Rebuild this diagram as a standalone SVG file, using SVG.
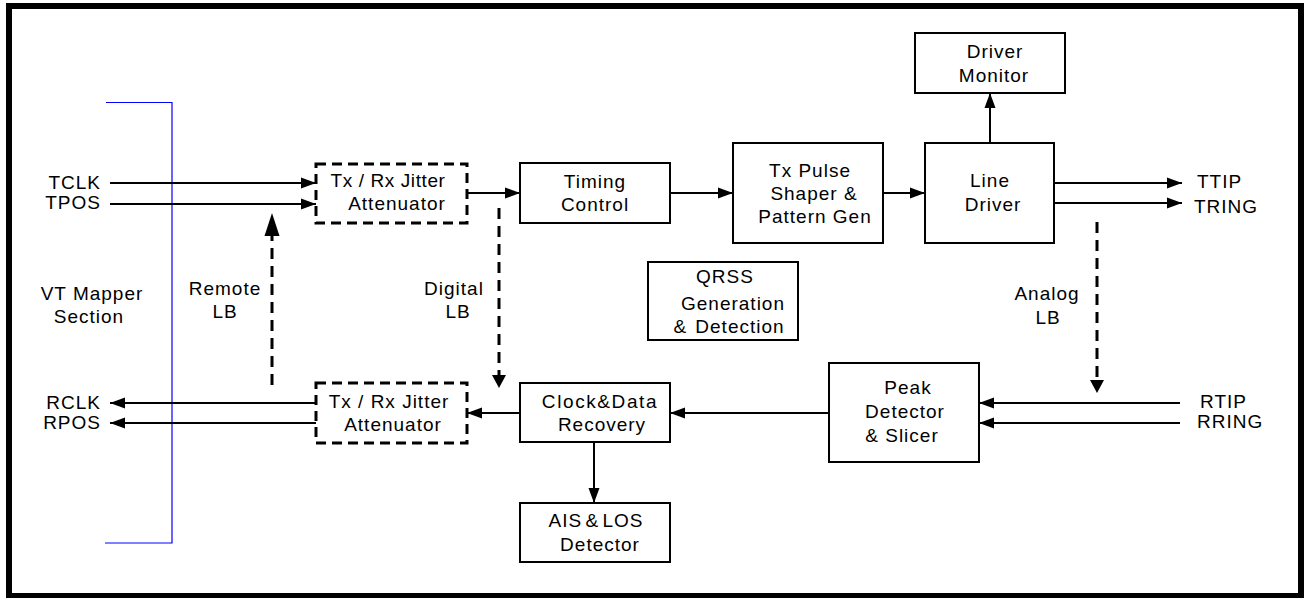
<svg xmlns="http://www.w3.org/2000/svg" width="1304" height="598" viewBox="0 0 1304 598">
<style>
text{font-family:"Liberation Sans",Arial,sans-serif;font-size:19px;letter-spacing:1px;fill:#000}
.m{text-anchor:middle}
.e{text-anchor:end}
.box{fill:#fff;stroke:#000;stroke-width:2}
.dbox{fill:#fff;stroke:#000;stroke-width:3;stroke-dasharray:10 6}
.c{fill:none;stroke:#000;stroke-width:2}
.d{fill:none;stroke:#000;stroke-width:3;stroke-dasharray:11 7}
</style>
<defs>
<marker id="ah" markerUnits="userSpaceOnUse" markerWidth="16" markerHeight="12" refX="15" refY="6" orient="auto">
<path d="M0,0.5 L15,6 L0,11.5 z" fill="#000"/>
</marker>
</defs>
<rect x="9" y="6" width="1292" height="590" fill="#fff" stroke="#000" stroke-width="6"/>
<path d="M106,102.5 H172 V543 H105" fill="none" stroke="#0000ff" stroke-width="1.2"/>
<g id="labels">
<text class="e" x="101" y="189">TCLK</text>
<text class="e" x="101" y="209">TPOS</text>
<text class="e" x="101" y="409">RCLK</text>
<text class="e" x="101" y="429">RPOS</text>
<text class="m" x="92" y="300">VT Mapper</text>
<text class="m" x="89" y="323">Section</text>
<text class="m" x="225" y="295">Remote</text>
<text class="m" x="225" y="318">LB</text>
<text class="m" x="454" y="295">Digital</text>
<text class="m" x="458" y="318">LB</text>
<text class="m" x="1047" y="300">Analog</text>
<text class="m" x="1048" y="324">LB</text>
<text x="1197" y="188">TTIP</text>
<text x="1194" y="213">TRING</text>
<text x="1200" y="408">RTIP</text>
<text x="1197" y="428">RRING</text>
</g>
<g id="jitter-tx">
<rect class="dbox" x="316" y="164" width="151" height="59"/>
<text class="m" x="388" y="187" style="letter-spacing:0.6px">Tx / Rx Jitter</text>
<text class="m" x="397" y="210">Attenuator</text>
</g>
<g id="timing-control">
<rect class="box" x="520" y="163" width="150" height="60"/>
<text class="m" x="595" y="188">Timing</text>
<text class="m" x="595" y="211">Control</text>
</g>
<g id="tx-pulse">
<rect class="box" x="733" y="143" width="150" height="100"/>
<text class="m" x="810" y="177">Tx Pulse</text>
<text class="m" x="814" y="200">Shaper &amp;</text>
<text class="m" x="815" y="223">Pattern Gen</text>
</g>
<g id="line-driver">
<rect class="box" x="925" y="143" width="129" height="100"/>
<text class="m" x="990" y="187">Line</text>
<text class="m" x="993" y="211">Driver</text>
</g>
<g id="driver-monitor">
<rect class="box" x="915" y="33" width="150" height="60"/>
<text class="m" x="995" y="58">Driver</text>
<text class="m" x="994" y="82">Monitor</text>
</g>
<g id="qrss">
<rect class="box" x="648" y="262" width="150" height="78"/>
<text class="m" x="725" y="283">QRSS</text>
<text class="m" x="733" y="310">Generation</text>
<text class="m" x="729" y="333" style="word-spacing:2px">&amp; Detection</text>
</g>
<g id="peak-detector">
<rect class="box" x="829" y="363" width="150" height="99"/>
<text class="m" x="908" y="394">Peak</text>
<text class="m" x="905" y="418">Detector</text>
<text class="m" x="902" y="442">&amp; Slicer</text>
</g>
<g id="clock-data">
<rect class="box" x="520" y="383" width="150" height="59"/>
<text class="m" x="600" y="408" style="letter-spacing:1.6px">Clock&amp;Data</text>
<text class="m" x="602" y="431">Recovery</text>
</g>
<g id="jitter-rx">
<rect class="dbox" x="316" y="383" width="151" height="60"/>
<text class="m" x="389" y="408">Tx / Rx Jitter</text>
<text class="m" x="393" y="431">Attenuator</text>
</g>
<g id="ais-los">
<rect class="box" x="520" y="503" width="150" height="59"/>
<text class="m" x="596" y="527" style="word-spacing:-3px">AIS &amp; LOS</text>
<text class="m" x="600" y="551">Detector</text>
</g>
<g id="connectors">
<path class="c" d="M110,183 H316" marker-end="url(#ah)"/>
<path class="c" d="M110,204 H316" marker-end="url(#ah)"/>
<path class="c" d="M467,193 H520" marker-end="url(#ah)"/>
<path class="c" d="M670,193 H733" marker-end="url(#ah)"/>
<path class="c" d="M883,193 H925" marker-end="url(#ah)"/>
<path class="c" d="M990,143 V93" marker-end="url(#ah)"/>
<path class="c" d="M1054,183 H1182" marker-end="url(#ah)"/>
<path class="c" d="M1054,203 H1182" marker-end="url(#ah)"/>
<path class="c" d="M1180,403 H979" marker-end="url(#ah)"/>
<path class="c" d="M1180,423 H979" marker-end="url(#ah)"/>
<path class="c" d="M829,413 H670" marker-end="url(#ah)"/>
<path class="c" d="M520,413 H467" marker-end="url(#ah)"/>
<path class="c" d="M316,403 H110" marker-end="url(#ah)"/>
<path class="c" d="M316,423 H110" marker-end="url(#ah)"/>
<path class="c" d="M594,442 V503" marker-end="url(#ah)"/>
<path class="d" d="M499,208 V376"/>
<polygon points="492,375 506,375 499,388"/>
<path class="d" d="M1097,222 V381"/>
<polygon points="1090,380 1104,380 1097,393"/>
<path class="d" d="M272,385 V234"/>
<polygon points="264.5,236 279.5,236 272,213"/>
</g>
</svg>
